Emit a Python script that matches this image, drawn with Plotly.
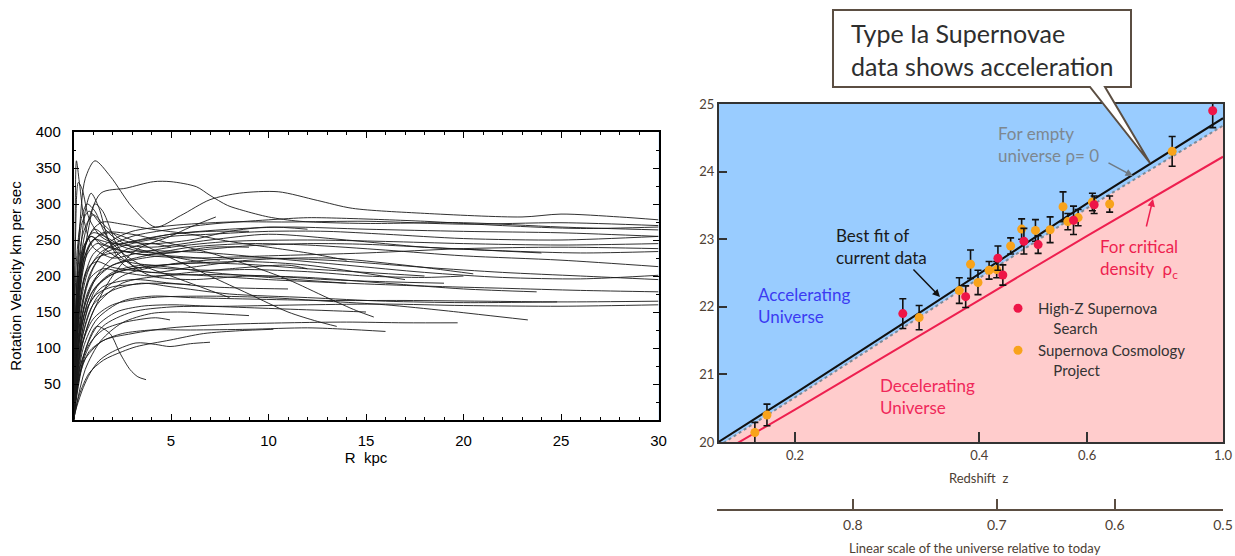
import math
import plotly.graph_objects as go

W, H = 1235, 556

# ---------------- Left chart: galaxy rotation curves (R kpc, V km/s) ----------------
rc01 = [(0,0),(0.1,120),(0.3,260),(0.6,335),(1.1,360),(1.9,338),(3.0,296),(4.2,268),(5.5,284),(7.0,306),(8.5,315),(10.5,317),(12.5,305),(14.3,294),(18,287),(23,282),(25,286),(28,282),(30,278)]
rc02 = [(0,0),(0.2,170),(0.6,260),(1.4,315),(2.7,322),(4.1,331),(5.0,331),(6.3,324),(7.0,312),(7.9,298),(8.7,291),(10,282),(11.6,276),(15,273),(20,274),(25,268),(30,264)]
rc03 = [(0,0),(0.08,250),(0.15,360),(0.3,330),(0.6,270),(1.0,240),(2,225),(3,230),(5,240),(8,248),(12,250),(16,248),(20,245),(25,243),(30,245)]
rc04 = [(0,0),(0.3,210),(0.6,290),(0.9,315),(1.3,295),(1.8,250),(2.6,215),(4,205),(6,212),(9,222),(13,225),(17,215),(20.5,203)]
rc05 = [(0,0),(0.4,200),(0.8,270),(1.1,300),(1.5,290),(2.2,245),(3.0,215),(4,200),(6,195),(9,200),(12,198),(16,190),(20,182),(23.75,178)]
rc06 = [(0,0),(0.2,120),(0.5,190),(1,230),(2,250),(3,262),(5,270),(8,275),(11,275),(15,276),(20,272),(25,274),(30,270)]
rc07 = [(0,0),(0.3,130),(0.8,200),(1.5,230),(3,245),(5,255),(7,258),(10,262),(13,262),(16,258),(20,252),(25,250),(30,255)]
rc08 = [(0,0),(0.2,150),(0.5,220),(1,250),(2,245),(4,240),(7,250),(10,258),(14,250),(18,240),(22,235),(26,232),(30,234)]
rc09 = [(0,0),(0.4,140),(1,190),(2,215),(4,230),(6,240),(9,245),(12,243),(16,236),(20,228),(25,222),(30,213)]
rc10 = [(0,0),(0.5,120),(1.2,170),(2.5,200),(4,212),(6,220),(9,225),(13,222),(18,212),(22,205),(26,200),(30,195)]
rc11 = [(0,0),(0.3,160),(0.7,210),(1.2,220),(2,212),(4,205),(7,200),(10,195),(14,190),(18,186),(22,183),(26,180),(30,178)]
rc12 = [(0,0),(0.5,100),(1.2,140),(2.5,165),(4,172),(6,170),(9,168),(13,166),(17,166),(21,165),(25,164),(30,165)]
rc13 = [(0,0),(0.6,90),(1.5,130),(3,150),(5,157),(8,158),(12,160),(16,161),(20,159),(25,158),(30,160)]
rc14 = [(0,0),(0.4,110),(1,160),(2,180),(3.5,190),(5,185),(8,175),(12,170),(16,165),(20,163),(24.8,164)]
rc15 = [(0,0),(0.3,90),(1,150),(2,200),(3.2,236),(4.95,255),(6,268),(7.3,282)]
rc16 = [(0,0),(0.3,60),(0.7,105),(1.19,130),(1.87,120),(2.38,93),(2.9,70),(3.3,60),(3.72,56)]
rc17 = [(0,0),(0.16,18),(0.5,45),(0.85,65),(1.3,82),(1.87,93),(3.2,107),(4.2,105),(4.95,102),(6,106),(7.0,108)]
rc18 = [(0,0),(0.3,35),(0.8,65),(1.53,83),(2.5,95),(3.24,102),(4.95,111),(6.66,120),(8.5,124),(10.25,126)]
rc19 = [(0,0),(0.3,60),(0.8,95),(1.5,110),(2.5,120),(4,125),(6,125),(9,126),(12,128),(14,126),(16,123)]
rc20 = [(0,0),(0.3,70),(0.8,105),(1.5,125),(2.5,135),(3.24,139),(4.2,142),(4.95,139)]
rc21 = [(0,0),(0.2,150),(0.5,220),(1,250),(1.8,260),(3,250),(5,225),(7,200),(9,175),(11,150),(12.5,137),(13.5,130)]
rc22 = [(0,0),(0.3,170),(0.8,240),(1.5,260),(3,258),(5,245),(7,232),(9,215),(11,195),(13,170),(14.5,152),(15.4,143)]
rc23 = [(0,0),(0.5,80),(1.5,110),(3,120),(5,128),(8,133),(11,135),(14,136),(17,135),(19.7,135)]
rc24 = [(0,0),(0.4,100),(1,140),(2,160),(4,170),(7,172),(10,170),(13,165),(16,160),(19,152),(21,146),(23.3,139)]
rc25 = [(0,0),(0.2,190),(0.5,240),(0.9,255),(1.5,240),(2.5,222),(4,215),(6,218),(9,220),(12,215),(17,195)]
rc26 = [(0,0),(0.3,180),(0.7,230),(1.2,245),(2,238),(3.5,230),(5,232),(7,240),(9,240)]
rc27 = [(0,0),(0.2,200),(0.5,260),(1,285),(1.6,270),(2.5,250),(4,245),(6,250),(8,262),(10,268),(12,265)]
rc28 = [(0,0),(0.4,130),(1,180),(2,205),(3.5,215),(5,212),(7,205),(10,198),(14,190)]
rc29 = [(0,0),(0.3,140),(0.8,195),(1.5,210),(2.5,205),(4,200),(6,205),(8,210),(11,215),(12,210)]
rc30 = [(0,0),(0.5,150),(1.2,200),(2,225),(3,240),(4,245),(5,240)]
rc31 = [(0,0),(0.3,200),(0.7,250),(1.1,265),(1.8,250),(2.6,230),(3.5,215),(5,200),(6.5,185),(8,170)]
rc32 = [(0,0),(0.15,220),(0.4,280),(0.7,300),(1.1,290),(1.6,260),(2.3,230),(3,215),(3.5,210)]
rc33 = [(0,0),(0.2,180),(0.5,235),(0.9,255),(1.5,245),(2.5,235),(4,228),(6,225),(10,228),(15,232),(20,238),(25,240),(30,238)]
rc34 = [(0,0),(0.3,150),(0.8,210),(1.5,235),(3,248),(5,258),(8,265),(11,268),(15,265),(20,262),(25,260),(30,255)]
rc35 = [(0,0),(0.2,130),(0.6,200),(1.2,225),(2,232),(4,235),(7,232),(10,225),(14,215),(18,205),(22,198),(26,196),(30,201)]
rc36 = [(0,0),(0.5,110),(1.2,160),(2.5,190),(4.5,200),(7,202),(10,200),(13,195),(16,192),(19,190)]
rc37 = [(0,0),(0.4,150),(1,210),(1.8,240),(3,255),(5,265),(7,272),(10,278),(12,281),(14,280),(18,276),(22,270),(26,266),(30,268)]
rc38 = [(0,0),(0.2,170),(0.6,240),(1,265),(1.5,275),(2.5,272),(4,265),(6,258),(8,248),(10,240),(12,232),(14,222)]
rc39 = [(0,0),(0.3,100),(0.8,160),(1.5,185),(3,195),(5,190),(7,185),(9,183),(11,182)]
rc40 = [(0,0),(0.2,90),(0.6,150),(1.2,175),(2,185),(3,188),(4,190),(6,188)]
rc41 = [(0,0),(0.3,120),(0.7,175),(1.2,200),(2,215),(3,222),(4.5,228),(6,226),(7.5,222)]
rc42 = [(0,0),(0.1,250),(0.25,330),(0.45,320),(0.8,280),(1.4,255),(2.2,245),(3.5,250),(5,258),(7,262),(9,262)]
rc43 = [(0,0),(0.6,70),(1.4,110),(2.5,135),(4,148),(5.5,150),(7,148),(9,145)]
rc44 = [(0,0),(0.4,80),(1.2,130),(2.2,150),(3.5,158),(5,160),(7,158),(10,155),(13,152),(15,150)]
rc45 = [(0,0),(0.5,130),(1.2,185),(2.2,205),(3.5,212),(5,210),(7,208),(9,209),(12,206),(15,200),(18,198),(20,200)]
rc46 = [(0,0),(0.3,190),(0.6,245),(1,260),(1.6,255),(2.6,240),(4,232),(6,235),(9,242),(12,245),(15,244),(18,240),(21,236),(24,232)]
rc47 = [(0,0),(0.2,210),(0.45,275),(0.8,290),(1.3,275),(2,255),(3,240),(4.5,230),(6,222),(7,218)]
rc48 = [(0,0),(0.3,110),(0.9,175),(1.8,200),(3,210),(4.5,215),(6.5,218),(9,216),(12,210),(15,205),(18,200)]

rotation_curves = [rc01, rc02, rc03, rc04, rc05, rc06, rc07, rc08, rc09, rc10, rc11, rc12,
                   rc13, rc14, rc15, rc16, rc17, rc18, rc19, rc20, rc21, rc22, rc23, rc24,
                   rc25, rc26, rc27, rc28, rc29, rc30, rc31, rc32, rc33, rc34, rc35, rc36,
                   rc37, rc38, rc39, rc40, rc41, rc42, rc43, rc44, rc45, rc46, rc47, rc48]

left_xticks = [5, 10, 15, 20, 25, 30]
left_yticks = [50, 100, 150, 200, 250, 300, 350, 400]

# ---------------- Right chart: supernova Hubble diagram ----------------
scp_z = [0.172, 0.180, 0.319, 0.371, 0.387, 0.398, 0.415, 0.427, 0.450, 0.469, 0.494, 0.522, 0.548, 0.558, 0.580, 0.612, 0.653, 0.826]
scp_m = [20.14, 20.40, 21.84, 22.24, 22.63, 22.36, 22.54, 22.55, 22.90, 23.15, 23.13, 23.14, 23.48, 23.26, 23.32, 23.55, 23.52, 24.30]
scp_err = [0.15, 0.16, 0.18, 0.19, 0.21, 0.18, 0.13, 0.12, 0.12, 0.15, 0.16, 0.19, 0.22, 0.12, 0.12, 0.13, 0.12, 0.22]

hzs_z = [0.300, 0.380, 0.429, 0.437, 0.473, 0.499, 0.570, 0.616, 0.962]
hzs_m = [21.90, 22.15, 22.72, 22.47, 22.97, 22.92, 23.28, 23.51, 24.90]
hzs_err = [0.22, 0.16, 0.18, 0.15, 0.19, 0.13, 0.21, 0.13, 0.25]

fit_z = [0.15, 0.2, 0.3, 0.4, 0.6, 1.0]
fit_m = [20.0, 20.72, 21.75, 22.49, 23.53, 24.79]
empty_m = [19.94, 20.66, 21.69, 22.43, 23.46, 24.68]
crit_z = [0.15, 0.2, 0.4, 0.6, 1.0]
crit_m = [19.82, 20.48, 22.10, 23.05, 24.22]

z_ticks = [0.2, 0.4, 0.6, 1.0]
z_ticktext = ["0.2", "0.4", "0.6", "1.0"]
m_ticks = [20, 21, 22, 23, 24, 25]
scale_ticks = [0.8, 0.7, 0.6, 0.5]


def px(x):
    return x / W


def py(y):
    return 1 - y / H


fig = go.Figure()

# rotation curves
for c in rotation_curves:
    fig.add_trace(go.Scatter(
        x=[p[0] for p in c], y=[p[1] for p in c], mode="lines",
        line=dict(color="#1a1a1a", width=0.9, shape="spline", smoothing=0.8),
        xaxis="x", yaxis="y", showlegend=False, hoverinfo="skip"))

# decelerating region (below empty-universe line)
fig.add_trace(go.Scatter(x=fit_z, y=empty_m, mode="lines", fill="tozeroy",
                         fillcolor="#FFCCCC", line=dict(width=0, color="#FFCCCC"),
                         xaxis="x2", yaxis="y2", showlegend=False, hoverinfo="skip"))
fig.add_trace(go.Scatter(x=crit_z, y=crit_m, mode="lines",
                         line=dict(color="#EE1F4F", width=2),
                         xaxis="x2", yaxis="y2", showlegend=False, hoverinfo="skip"))
fig.add_trace(go.Scatter(x=fit_z, y=empty_m, mode="lines",
                         line=dict(color="#7d8a96", width=2, dash="dot"),
                         xaxis="x2", yaxis="y2", showlegend=False, hoverinfo="skip"))
fig.add_trace(go.Scatter(x=fit_z, y=fit_m, mode="lines",
                         line=dict(color="#111111", width=2),
                         xaxis="x2", yaxis="y2", showlegend=False, hoverinfo="skip"))
fig.add_trace(go.Scatter(x=scp_z, y=scp_m, mode="markers", name="Supernova Cosmology<br>\u00a0\u00a0\u00a0\u00a0Project",
                         marker=dict(color="#F8A31B", size=9),
                         error_y=dict(type="data", array=scp_err, color="#111111", thickness=1.6, width=3.5),
                         xaxis="x2", yaxis="y2", legendrank=2))
fig.add_trace(go.Scatter(x=hzs_z, y=hzs_m, mode="markers", name="High-Z Supernova<br>\u00a0\u00a0\u00a0\u00a0Search",
                         marker=dict(color="#EE1547", size=9),
                         error_y=dict(type="data", array=hzs_err, color="#111111", thickness=1.6, width=3.5),
                         xaxis="x2", yaxis="y2", legendrank=1))
# empty trace so the scale-factor axis subplot exists
fig.add_trace(go.Scatter(x=[], y=[], mode="markers", xaxis="x3", yaxis="y3",
                         showlegend=False, hoverinfo="skip"))

LF = "Liberation Sans, Arial, sans-serif"
RF = "Lato, Open Sans, sans-serif"
BROWN = "#4d4033"

lrange = [math.log10(0.1503), 0]

fig.update_layout(
    width=W, height=H, margin=dict(l=0, r=0, t=0, b=0, autoexpand=False),
    paper_bgcolor="white", plot_bgcolor="#99CCFF",
    xaxis=dict(domain=[px(73.5), px(658.5)], range=[0, 30], tickvals=left_xticks,
               ticks="inside", ticklen=6, tickcolor="black", showline=True, linecolor="black",
               linewidth=1.5, mirror="allticks", showgrid=False, zeroline=False, automargin=False,
               minor=dict(tickmode="linear", tick0=0, dtick=1, ticks="inside", ticklen=3, tickcolor="black"),
               tickfont=dict(family=LF, size=15, color="black"), ticklabelstandoff=6,
               title=dict(text="R  kpc", font=dict(family=LF, size=15, color="black"), standoff=4),
               anchor="y"),
    yaxis=dict(domain=[py(420), py(132)], range=[0, 400], tickvals=left_yticks,
               ticks="inside", ticklen=6, tickcolor="black", showline=True, linecolor="black",
               linewidth=1.5, mirror="allticks", showgrid=False, zeroline=False, automargin=False,
               minor=dict(tickmode="linear", tick0=0, dtick=25, ticks="inside", ticklen=3, tickcolor="black"),
               tickfont=dict(family=LF, size=15, color="black"), ticklabelstandoff=8,
               title=dict(text="Rotation Velocity km per sec", font=dict(family=LF, size=15, color="black"), standoff=10),
               anchor="x"),
    xaxis2=dict(domain=[px(719), px(1223)], type="log", range=lrange, tickvals=z_ticks, ticktext=z_ticktext,
                ticks="inside", ticklen=10, tickwidth=2, tickcolor="#333", showline=True, linecolor="#333",
                linewidth=2, mirror=True, showgrid=False, zeroline=False, automargin=False,
                tickfont=dict(family=RF, size=13, color=BROWN), anchor="y2"),
    yaxis2=dict(domain=[py(442), py(104)], range=[20, 25], tickvals=m_ticks,
                ticks="inside", ticklen=8, tickwidth=2, tickcolor="#333", showline=True, linecolor="#333",
                linewidth=2, mirror=True, showgrid=False, zeroline=False, automargin=False,
                tickfont=dict(family=RF, size=13, color=BROWN), anchor="x2"),
    xaxis3=dict(domain=[px(717), px(1223)], type="log", range=lrange, anchor="y3", side="bottom",
                tickvals=[1 / a - 1 for a in scale_ticks], ticktext=[str(a) for a in scale_ticks],
                ticks="inside", ticklen=10, tickwidth=2, tickcolor="#5b4e42", showline=True,
                linecolor="#5b4e42", linewidth=2, showgrid=False, zeroline=False, automargin=False,
                tickfont=dict(family=RF, size=14, color=BROWN), ticklabelstandoff=2),
    yaxis3=dict(domain=[py(509), py(508)], range=[0, 1], anchor="x3", showline=False,
                showticklabels=False, ticks="", showgrid=False, zeroline=False, automargin=False),
    showlegend=True,
    legend=dict(x=px(998), y=py(292), xanchor="left", yanchor="top", bgcolor="rgba(0,0,0,0)",
                font=dict(family=RF, size=15, color="#333"), valign="top", traceorder="normal",
                tracegroupgap=0, itemclick=False),
)

# left chart and scale-axis backgrounds white (plot_bgcolor is the right chart's blue)
fig.add_shape(type="rect", xref="x domain", yref="y domain", x0=0, x1=1, y0=0, y1=1,
              fillcolor="white", line=dict(width=0), layer="below")
fig.add_shape(type="rect", xref="x3 domain", yref="y3 domain", x0=0, x1=1, y0=0, y1=1,
              fillcolor="white", line=dict(width=0), layer="below")

# Callout box
cx = [833, 1131, 1131, 1105, 1150, 1090, 833]
cy = [10, 10, 87, 87, 163, 87, 87]
path = "M " + " L ".join(f"{px(a):.5f},{py(b):.5f}" for a, b in zip(cx, cy)) + " Z"
fig.add_shape(type="path", path=path, xref="paper", yref="paper",
              line=dict(color="#5b4e42", width=2), fillcolor="white", layer="above")

ann = []
ann.append(dict(text="Type Ia Supernovae<br>data shows acceleration", x=px(849), y=py(49), xanchor="left",
                yanchor="middle", align="left", font=dict(family=RF, size=25, color="#2e2e2e")))
ann.append(dict(text="For empty<br>universe \u03c1= 0", x=px(996), y=py(145), xanchor="left", yanchor="middle",
                align="left", font=dict(family=RF, size=17, color="#7d8790")))
ann.append(dict(text="Best fit of<br>current data", x=px(834), y=py(246), xanchor="left", yanchor="middle",
                align="left", font=dict(family=RF, size=17, color="#1a1a1a")))
ann.append(dict(text="Accelerating<br>Universe", x=px(756), y=py(305), xanchor="left", yanchor="middle",
                align="left", font=dict(family=RF, size=17, color="#3b3bf2")))
ann.append(dict(text="Decelerating<br>Universe", x=px(878), y=py(396), xanchor="left", yanchor="middle",
                align="left", font=dict(family=RF, size=17, color="#F0285A")))
ann.append(dict(text="For critical<br>density  \u03c1<sub>c</sub>", x=px(1098), y=py(259), xanchor="left",
                yanchor="middle", align="left", font=dict(family=RF, size=17, color="#EE1F4F")))
ann.append(dict(text="Redshift  z", x=px(978), y=py(478), xanchor="center", yanchor="middle",
                font=dict(family=RF, size=13, color=BROWN)))
ann.append(dict(text="Linear scale of the universe relative to today", x=px(975), y=py(548), xanchor="center",
                yanchor="middle", font=dict(family=RF, size=13, color=BROWN)))
# arrows
ann.append(dict(text="", x=px(940), y=py(297), ax=-28, ay=-29, showarrow=True, arrowhead=2, arrowsize=1,
                arrowwidth=1.5, arrowcolor="#111", standoff=0))
ann.append(dict(text="", x=px(1133), y=py(176), ax=-26, ay=-14, showarrow=True, arrowhead=2, arrowsize=1,
                arrowwidth=1.5, arrowcolor="#6f7a84", standoff=0))
ann.append(dict(text="", x=px(1153), y=py(199), ax=-7, ay=29, showarrow=True, arrowhead=2, arrowsize=1,
                arrowwidth=1.5, arrowcolor="#EE1F4F", standoff=0))
for a in ann:
    a.setdefault("showarrow", False)
    a["xref"] = "paper"
    a["yref"] = "paper"
    fig.add_annotation(**a)

# remove the page's default body margin so the figure sits at the window's top-left corner
fig.write_html("out.html",
               config={"displayModeBar": False},
               post_script="document.body.style.margin='0';"
                           "document.documentElement.style.overflow='hidden';")
